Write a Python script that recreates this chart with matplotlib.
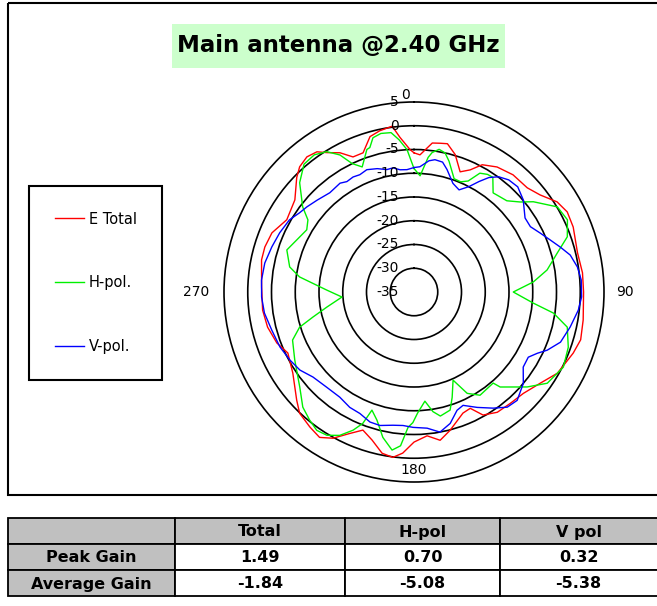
import numpy as np
import matplotlib
matplotlib.use("Agg")
import matplotlib.pyplot as plt
from matplotlib.patches import Rectangle
from matplotlib.transforms import offset_copy

# 測定データ (角度 deg, ゲイン dB)
red_deg = [0, 2.5, 7, 10, 12.7, 16.7, 21, 24.7, 28.2, 33.6, 40.2, 47.4, 52.4, 57.8, 62.4,
           67.8, 76.5, 83.5, 90, 99.4, 106, 111, 119.5, 125.8, 132.8, 139.1, 145.3, 150.7,
           154.2, 158, 165.4, 170, 174.8, 180, 184, 187.3, 191.2, 195.8, 200.3, 204.4, 209,
           213, 217.6, 223.3, 227.3, 236.2, 244.2, 249.6, 256.5, 263.2, 271.9, 281.9, 286.8,
           292.6, 299.6, 307.7, 314.3, 317.6, 321.6, 325.3, 328, 332, 335.7, 339.9, 344.2,
           348, 352.5, 354.8, 358.4]
red_db = [-5.7, -6.1, -3.4, -3.2, -3.0, -4.8, -7.9, -6.7, -4.6, -3.4, -2.7, -2.6, -1.5, 0.6, 1.4,
          1.2, 0.4, 0.7, 0.7, 1.1, 1.5, 0.9, -0.3, -2.2, -3.6, -4.0, -4.2, -5.3,
          -7.8, -7.5, -4.9, -3.3, -4.6, -3.4, -1.0, 0.1, -0.4, -2.6, -4.0, -2.3, 0.2,
          1.5, 0.9, 0.1, -1.4, -4.3, -5.5, -4.2, -3.3, -2.9, -2.9, -2.2, -2.2,
          -2.6, -4.2, -3.3, -0.5, 0.7, 1.3, 0.9, -0.4, -1.8, -3.8, -3.8, -1.0,
          -0.3, 0.2, -2.3, -5.0]

green_deg = [0, 3, 6, 7.4, 10, 12.6, 15, 19.5, 23, 26, 29, 32, 34.5, 38.6, 41, 45.5, 49.7,
             52.9, 59.3, 64.8, 70.2, 74.7, 80.6, 85.2, 90, 95.3, 98.6, 102.9, 109.7, 116.7,
             124.4, 130, 137.8, 139, 147.4, 152.3, 156.1, 160.1, 163, 168, 171, 174.3, 178.3,
             180.5, 182.5, 185, 187.9, 192.1, 196.1, 199.6, 201.3, 203.8, 207.4, 211.3, 215.1,
             219.1, 224, 230.2, 240.3, 248.4, 252.9, 256.1, 260.2, 266, 271.3, 277.5, 281.4,
             288.3, 294, 300.1, 304.2, 307.4, 313.7, 319.3, 324, 328.1, 331.6, 334.3, 337.5,
             341.7, 343, 345.1, 348.2, 351.8, 354.4, 357.2]
green_db = [-9.0, -10.5, -6.5, -5.4, -4.5, -5.0, -6.5, -9.7, -9.8, -9.0, -6.4, -5.8, -5.7, -8.3,
            -8.1, -7.6, -5.7, -3.5, 0.1, 0.7, -0.7, -3.7, -6.6, -9.8, -14.1, -9.8, -5.3, -1.9,
            -0.5, 0.2, -1.0, -3.9, -8.0, -9.6, -9.2, -10.9, -14.7, -11.4, -9.0, -8.3, -9.5,
            -11.9, -9.5, -7.5, -6.5, -2.5, -1.4, -3.7, -6.9, -8.6, -5.3, -3.2, -1.0, 0.3, 0.6,
            -0.2, -1.3, -3.7, -6.1, -7.5, -9.8, -13.1, -16.4, -19.8, -16.6, -10.7, -8.3,
            -6.8, -8.0, -8.9, -8.0, -5.5, -1.7, 0.5, 0.7, -0.2, -2.2, -5.0, -6.5,
            -3.4, -3.2, -1.4, -0.9, -1.1, -2.8, -5.0]

blue_deg = [0, 2.7, 6.5, 9, 12.4, 15.1, 19.7, 23.8, 27.5, 30.5, 33.2, 36.3, 40.2, 44.6, 49.8,
            56.3, 60.7, 64.9, 69.1, 72.9, 76.7, 81.3, 85.9, 91.7, 96.3, 102.6, 108.9, 113.6,
            116.4, 119.7, 124.5, 129.9, 136.4, 141, 145.7, 151.3, 156.6, 160, 164.6, 169.5,
            174.5, 180.4, 184.7, 189, 194.3, 198.7, 204, 209.1, 215.2, 222.5, 229.9, 235.6,
            241.3, 247.7, 255, 262, 268.1, 274.5, 281, 287.6, 293.8, 300.1, 304.7, 308.5,
            313.5, 319.7, 325.8, 328.7, 332.1, 335.2, 338.9, 343.4, 347.5, 350.4, 353.5, 356.7]
blue_db = [-8.8, -8.6, -7.2, -6.8, -7.0, -8.3, -10.7, -11.5, -10.0, -8.0, -6.2, -4.9, -4.1, -3.9,
           -4.9, -6.9, -6.9, -5.7, -4.3, -2.8, -1.2, -0.2, 0.3, 0.3, -0.2, -1.3, -2.4, -4.4,
           -6.0, -7.3, -7.1, -5.0, -3.5, -3.8, -5.4, -7.3, -9.0, -8.5, -6.3, -5.0,
           -6.2, -6.5, -6.8, -6.6, -6.0, -6.1, -7.0, -7.2, -7.9, -7.8, -7.2, -5.9,
           -5.2, -4.5, -4.0, -3.2, -2.9, -2.8, -3.0, -3.6, -4.1, -4.7, -5.7, -6.2,
           -6.9, -7.6, -7.3, -7.8, -7.6, -7.8, -7.4, -7.9, -8.6, -8.5, -9.1, -9.2]

ring_values = [-35, -30, -25, -20, -15, -10, -5, 0, 5]
angle_labels = ["0", "90", "180", "270"]

col_labels = ["", "Total", "H-pol", "V pol"]
row_labels = ["Peak Gain", "Average Gain"]
total_gain = ["1.49", "-1.84"]
hpol_gain = ["0.70", "-5.08"]
vpol_gain = ["0.32", "-5.38"]

W, H = 657, 606
fig = plt.figure(figsize=(W / 100, H / 100), dpi=100)

# ピクセル座標の下敷き
bg = fig.add_axes([0, 0, 1, 1])
bg.set_xlim(0, W)
bg.set_ylim(H, 0)
bg.axis("off")

bg.add_patch(Rectangle((8, 3), 670, 492, fill=False, ec="black", lw=1.5, clip_on=False))
bg.add_patch(Rectangle((172, 24), 333, 44, fc="#ccffcc", ec="none"))
bg.text(338, 46, "Main antenna @2.40 GHz", ha="center", va="center",
        fontsize=16.5, fontweight="bold")

# 表
xs = [8, 175, 345, 500, 680]
ys = [518, 544, 570, 596]
cells = [col_labels,
         [row_labels[0], total_gain[0], hpol_gain[0], vpol_gain[0]],
         [row_labels[1], total_gain[1], hpol_gain[1], vpol_gain[1]]]
for i in range(3):
    for j in range(4):
        gray = (i == 0) or (j == 0)
        bg.add_patch(Rectangle((xs[j], ys[i]), xs[j + 1] - xs[j], ys[i + 1] - ys[i],
                               fc="#c0c0c0" if gray else "white", ec="black", lw=1.3,
                               clip_on=False))
        bg.text((xs[j] + min(xs[j + 1], W)) / 2, (ys[i] + ys[i + 1]) / 2 + 1, cells[i][j],
                ha="center", va="center", fontsize=11.5, fontweight="bold")

# 極座標
cx, cy, R = 414, 292, 190
ax = fig.add_axes([(cx - R) / W, 1 - (cy + R) / H, 2 * R / W, 2 * R / H], projection="polar")
ax.set_facecolor("none")
ax.set_theta_zero_location("N")
ax.set_theta_direction(-1)
ax.set_ylim(-35, 5)
ax.set_yticks(ring_values[1:-1])
ax.set_yticklabels([])
ax.set_xticks([])
ax.xaxis.grid(False)
ax.yaxis.grid(True, color="black", lw=1.2, ls="-")
ax.spines["polar"].set_color("black")
ax.spines["polar"].set_linewidth(1.2)

def closed(deg, db):
    t = np.deg2rad(np.append(deg, deg[0] + 360))
    return t, np.append(db, db[0])

ax.plot(*closed(red_deg, red_db), color="#ff0000", lw=1.0, label="E Total")
ax.plot(*closed(green_deg, green_db), color="#00f000", lw=1.0, label="H-pol.")
ax.plot(*closed(blue_deg, blue_db), color="#0000ff", lw=1.0, label="V-pol.")

off = offset_copy(ax.transData, fig=fig, x=-15, y=0, units="dots")
for r in ring_values:
    ax.text(0, r, str(r), transform=off, ha="right", va="center", fontsize=10, clip_on=False)

off0 = offset_copy(ax.transData, fig=fig, x=-9, y=0, units="dots")
ax.text(0, 6.5, angle_labels[0], transform=off0, ha="center", va="center", fontsize=10,
        clip_on=False)
ax.text(np.pi / 2, 9.5, angle_labels[1], ha="center", va="center", fontsize=10, clip_on=False)
ax.text(np.pi, 2.4, angle_labels[2], ha="center", va="center", fontsize=10, clip_on=False)
ax.text(3 * np.pi / 2, 10.8, angle_labels[3], ha="center", va="center", fontsize=10, clip_on=False)

leg = fig.legend(loc="upper left", bbox_to_anchor=(29 / W, 1 - 186 / H), borderaxespad=0,
                 fontsize=10.5, labelspacing=3.35, borderpad=1.75, handlelength=2.0,
                 handletextpad=0.35, fancybox=False, framealpha=1)
leg.get_frame().set_edgecolor("black")
leg.get_frame().set_linewidth(1.5)

fig.savefig("out.png", dpi=100)
